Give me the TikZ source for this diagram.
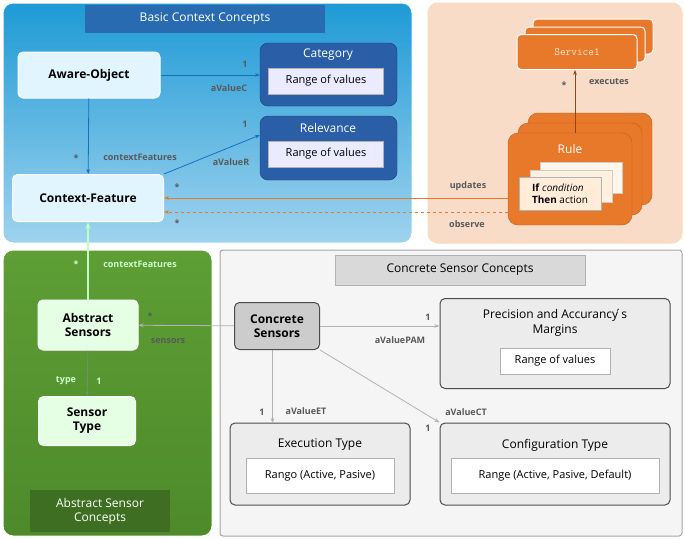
\documentclass[tikz,border=0pt]{standalone}
\usepackage{fontspec}
\setmainfont{Open Sans}
\usetikzlibrary{arrows.meta,positioning}
\definecolor{bluex}{HTML}{1E9AD6}
\definecolor{bluey}{HTML}{9FD3EE}
\definecolor{navx}{HTML}{2A5FA8}
\definecolor{orx}{HTML}{E8782A}
\definecolor{orbg}{HTML}{F8DCC8}
\definecolor{grx}{HTML}{5E9E35}
\definecolor{gry}{HTML}{4E8A2A}
\tikzset{
  panel/.style={rounded corners=10pt,draw=white,line width=1pt},
  concept/.style={rounded corners=5pt,draw=white,line width=1pt,font=\bfseries\fontsize{12}{14}\selectfont,align=center},
  valbox/.style={draw=gray!60,fill=white,font=\fontsize{11}{13}\selectfont,inner sep=3pt},
  lbl/.style={font=\bfseries\fontsize{9}{11}\selectfont,text=black!65},
  link/.style={-{Stealth[length=5pt]},line width=0.8pt}
}
\begin{document}
\begin{tikzpicture}[x=1pt,y=-1pt]
\useasboundingbox (0,0) rectangle (685,538);
% panels
\draw[panel,top color=bluex,bottom color=bluey] (3,3) rectangle (412,243);
\fill[navx!80!bluex] (85,5) rectangle (325,33);
\node[text=white,font=\fontsize{12}{14}\selectfont] (tb) at (205,19) {Basic Context Concepts};
\draw[panel,fill=orbg,draw=orange!30] (428,3) rectangle (682,243);
\draw[panel,top color=grx,bottom color=gry] (3,250) rectangle (212,536);
\fill[gry!80!black] (30,490) rectangle (170,532);
\node[text=white,font=\fontsize{12}{14}\selectfont,align=center] (ta) at (100,511) {Abstract Sensor\\Concepts};
\draw[panel,fill=gray!8,draw=gray!70,rounded corners=3pt] (220,250) rectangle (682,536);
\node[draw=gray!60,fill=gray!30,minimum width=250pt,minimum height=30pt,font=\fontsize{12}{14}\selectfont] (tc) at (460,270) {Concrete Sensor Concepts};
% basic context
\node[concept,fill=cyan!12,minimum width=142pt,minimum height=46pt] (aware) at (89,75) {Aware-Object};
\node[concept,fill=cyan!12,minimum width=151pt,minimum height=47pt] (feature) at (88,198) {Context-Feature};
\draw[rounded corners=8pt,fill=navx,draw=navx!60!black] (260,43) rectangle (397,106);
\node[text=white,font=\fontsize{12}{14}\selectfont] (cat) at (328,55) {Category};
\node[valbox,fill=blue!8,minimum width=115pt,minimum height=26pt] (catr) at (326,81) {Range of values};
\draw[rounded corners=8pt,fill=navx,draw=navx!60!black] (260,116) rectangle (397,180);
\node[text=white,font=\fontsize{12}{14}\selectfont] (rel) at (328,128) {Relevance};
\node[valbox,fill=blue!8,minimum width=115pt,minimum height=26pt] (relr) at (326,154) {Range of values};
\coordinate (catin) at (260,75);
\coordinate (relin) at (260,135);
\draw[link,draw=cyan!50!blue] (aware.east|-catin) -- (catin);
\draw[link,draw=cyan!50!blue] (aware) -- (feature);
\draw[link,draw=cyan!50!blue] (feature.north east) -- (relin);
\node[lbl] at (245,64) {1};
\node[lbl] at (229,88) {aValueC};
\node[lbl] at (245,124) {1};
\node[lbl] at (231,162) {aValueR};
\node[lbl] at (76,158) {*};
\node[lbl] at (140,157) {contextFeatures};
\node[lbl] at (177,187) {*};
\node[lbl] at (177,223) {*};
% rules and services
\foreach \d in {16,8} {
  \draw[rounded corners=4pt,fill=orx,draw=white,line width=1pt] (517+\d,35-\d) rectangle (637+\d,70-\d);
  \draw[rounded corners=10pt,fill=orx,draw=orx!80!black] (508+\d+\d/4,133-\d-\d/4) rectangle (632+\d+\d/4,225-\d-\d/4);
}
\node[rounded corners=4pt,fill=orx,draw=white,line width=1pt,minimum width=120pt,minimum height=35pt,text=white!85!orange,font=\ttfamily\fontsize{11}{13}\selectfont] (service) at (577,52) {Service1};
\draw[rounded corners=10pt,fill=orx,draw=orx!80!black] (508,133) rectangle (632,225);
\node[text=white,font=\fontsize{12}{14}\selectfont] (rule) at (570,149) {Rule};
\fill[orange!8,draw=gray!40] (540,162) rectangle (622,193);
\fill[orange!12,draw=gray!40] (530,170) rectangle (612,202);
\node[valbox,fill=orange!15,align=left,font=\fontsize{10}{12}\selectfont,minimum width=82pt,minimum height=33pt] (ifthen) at (560,194) {\textbf{If} \textit{condition}\\\textbf{Then} action};
\coordinate (ruletop) at (575,133);
\coordinate (upd) at (508,198);
\coordinate (obs) at (508,212);
\draw[link,draw=orx!60!black] (ruletop) -- (ruletop|-service.south);
\draw[link,draw=orx] (upd) -- (feature.east|-upd);
\draw[link,draw=orx,dashed] (obs) -- (feature.east|-obs);
\node[lbl] at (564,85) {*};
\node[lbl] at (609,82) {executes};
\node[lbl] at (468,186) {updates};
\node[lbl] at (467,224) {observe};
% abstract sensors
\node[concept,fill=green!10,minimum width=100pt,minimum height=50pt] (abs) at (88,325) {Abstract\\Sensors};
\node[concept,fill=green!10,minimum width=97pt,minimum height=49pt] (stype) at (87,421) {Sensor\\Type};
\draw[link,draw=green!25!white,-{Stealth[open,length=7pt]},line width=1.2pt] (abs) -- (feature);
\draw[link,draw=green!15!gray] (abs) -- (stype);
\node[lbl,text=white!80!green] at (76,264) {*};
\node[lbl,text=white!80!green] at (140,264) {contextFeatures};
\node[lbl,text=white!80!green] at (66,381) {type};
\node[lbl,text=white!80!green] at (99,381) {1};
% concrete sensors
\node[concept,fill=gray!40,draw=gray!60!black,minimum width=85pt,minimum height=47pt] (conc) at (277,326) {Concrete\\Sensors};
\node[concept,fill=gray!15,draw=gray!60!black,minimum width=230pt,minimum height=90pt,anchor=north] (prec) at (555,298) {};
\node[font=\fontsize{12}{15}\selectfont,align=center] (prect) at (555,323) {Precision and Accurancy\'{}s\\Margins};
\node[valbox,minimum width=110pt,minimum height=26pt] (precr) at (555,361) {Range of values};
\node[concept,fill=gray!15,draw=gray!60!black,minimum width=180pt,minimum height=82pt] (exec) at (320,464) {};
\node[font=\fontsize{12}{14}\selectfont] (exect) at (320,445) {Execution Type};
\node[valbox,minimum width=148pt,minimum height=35pt] (execr) at (320,476) {Rango (Active, Pasive)};
\node[concept,fill=gray!15,draw=gray!60!black,minimum width=230pt,minimum height=82pt] (conf) at (555,464) {};
\node[font=\fontsize{12}{14}\selectfont] (conft) at (555,445) {Configuration Type};
\node[valbox,minimum width=208pt,minimum height=35pt] (confr) at (555,476) {Range (Active, Pasive, Default)};
\draw[link,draw=gray!60] (conc) -- (abs);
\draw[link,draw=gray!60] (conc) -- (prec.west|-conc);
\draw[link,draw=gray!60] (conc.south-|exec.north west) ++(43,0) -- ++(0,73);
\draw[link,draw=gray!60] (conc.south east) -- (conf.north west);
\node[lbl] at (150,316) {*};
\node[lbl] at (168,341) {sensors};
\node[lbl] at (428,317) {1};
\node[lbl] at (400,340) {aValuePAM};
\node[lbl] at (262,412) {1};
\node[lbl] at (306,411) {aValueET};
\node[lbl] at (428,428) {1};
\node[lbl] at (466,412) {aValueCT};
\end{tikzpicture}
\end{document}
